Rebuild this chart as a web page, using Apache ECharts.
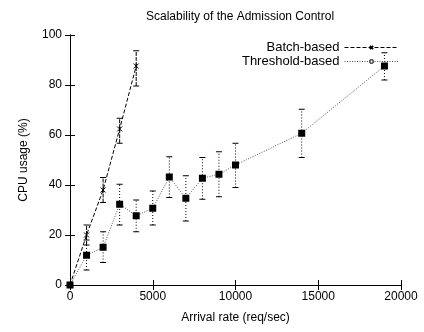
<!DOCTYPE html>
<html>
<head>
<meta charset="utf-8">
<script src="https://cdn.jsdelivr.net/npm/echarts@6/dist/echarts.min.js"></script>
<style>
  html, body { margin: 0; padding: 0; background: #fff; }
  #chart { width: 424px; height: 332px; }
</style>
</head>
<body>
<div id="chart"></div>
<script>
// arrival rate (req/sec)
const batchX = [0, 1000, 2000, 3000, 4000];
const batchY = [0, 20, 38, 62.4, 87.6];
const batchLow = [0, 16, 33, 56.7, 79.6];
const batchHigh = [0, 24, 43, 66.7, 93.7];

const threshX = [0, 1000, 2000, 3000, 4000, 5000, 6000, 7000, 8000, 9000, 10000, 14000, 19000];
const threshY = [0, 11.9, 15.1, 32.3, 27.7, 30.7, 43.2, 34.7, 42.7, 44.3, 48, 60.7, 87.6];
const threshLow = [0, 6, 9, 24, 21.3, 24, 35, 25.6, 34.3, 35.3, 39, 51, 82];
const threshHigh = [0, 18, 21.3, 40.3, 34, 37.6, 51.3, 43.7, 51, 53.3, 56.7, 70.3, 92.9];

const xTicks = [0, 5000, 10000, 15000, 20000];
const yTicks = [0, 20, 40, 60, 80, 100];

function pairs(xs, ys) { return xs.map((x, i) => [x, ys[i]]); }
function triples(xs, lo, hi) { return xs.map((x, i) => [x, lo[i], hi[i]]); }

function errorBar(dash) {
  return function (params, api) {
    const x = api.value(0);
    const p1 = api.coord([x, api.value(1)]);
    const p2 = api.coord([x, api.value(2)]);
    const cap = 3;
    const style = { stroke: '#000', lineWidth: 1, lineDash: dash };
    return {
      type: 'group',
      children: [
        { type: 'line', shape: { x1: p1[0], y1: p1[1], x2: p2[0], y2: p2[1] }, style: style },
        { type: 'line', shape: { x1: p1[0] - cap, y1: p1[1], x2: p1[0] + cap, y2: p1[1] }, style: { stroke: '#000', lineWidth: 1 } },
        { type: 'line', shape: { x1: p2[0] - cap, y1: p2[1], x2: p2[0] + cap, y2: p2[1] }, style: { stroke: '#000', lineWidth: 1 } }
      ]
    };
  };
}

const font = 'Liberation Sans';
const chart = echarts.init(document.getElementById('chart'), null, { renderer: 'canvas' });

const legendBase = {
  right: 25, align: 'right', padding: 0,
  itemWidth: 54, itemHeight: 4, itemGap: 4,
  lineStyle: { width: 1, type: 'inherit' },
  textStyle: { fontFamily: font, fontSize: 13, color: '#000' }
};

const option = {
  animation: false,
  textStyle: { fontFamily: font },
  title: {
    text: 'Scalability of the Admission Control',
    left: 235, top: 6, textAlign: 'center',
    textStyle: { fontFamily: font, fontSize: 12, fontWeight: 'normal', color: '#000' }
  },
  legend: [
    Object.assign({}, legendBase, {
      top: 41,
      data: ['Batch-based']
    }),
    Object.assign({}, legendBase, {
      top: 55,
      data: [{ name: 'Threshold-based', itemStyle: { color: '#fff', borderColor: '#000', borderWidth: 1 } }]
    })
  ],
  grid: { left: 70, right: 23, top: 35, bottom: 47 },
  xAxis: [
    {
      type: 'value', min: 0, max: 20000, interval: 5000,
      name: 'Arrival rate (req/sec)', nameLocation: 'middle', nameGap: 27,
      nameTextStyle: { fontFamily: font, fontSize: 12, color: '#000' },
      axisLine: { lineStyle: { color: '#000', width: 1 } },
      axisTick: { inside: true, length: 5, lineStyle: { color: '#000' } },
      axisLabel: { color: '#000', fontSize: 12, fontFamily: font, margin: 6,
        formatter: v => xTicks.includes(v) ? String(v) : '' },
      splitLine: { show: false }
    },
    {
      type: 'value', min: 0, max: 20000, interval: 5000, position: 'top',
      axisLine: { lineStyle: { color: '#000', width: 1 } },
      axisTick: { inside: true, length: 5, lineStyle: { color: '#000' } },
      axisLabel: { show: false }, splitLine: { show: false }
    }
  ],
  yAxis: [
    {
      type: 'value', min: 0, max: 100, interval: 20,
      name: 'CPU usage (%)', nameLocation: 'middle', nameGap: 40,
      nameTextStyle: { fontFamily: font, fontSize: 12, color: '#000' },
      axisLine: { show: true, lineStyle: { color: '#000', width: 1 } },
      axisTick: { show: true, inside: true, length: 5, lineStyle: { color: '#000' } },
      axisLabel: { color: '#000', fontSize: 12, fontFamily: font, margin: 8,
        formatter: v => yTicks.includes(v) ? String(v) : '' },
      splitLine: { show: false }
    },
    {
      type: 'value', min: 0, max: 100, interval: 20, position: 'right',
      axisLine: { show: true, lineStyle: { color: '#000', width: 1 } },
      axisTick: { show: true, inside: true, length: 5, lineStyle: { color: '#000' } },
      axisLabel: { show: false }, splitLine: { show: false }
    }
  ],
  series: [
    {
      name: 'Batch-based',
      type: 'line',
      data: pairs(batchX, batchY),
      symbol: 'path://M0,0L10,10M10,0L0,10M5,0L5,10',
      symbolSize: 5,
      itemStyle: { color: 'none', borderColor: '#000', borderWidth: 1 },
      lineStyle: { color: '#000', width: 1, type: [4, 2] },
      z: 3
    },
    {
      name: 'Threshold-based',
      type: 'line',
      data: pairs(threshX, threshY),
      symbol: 'rect',
      symbolSize: 7,
      itemStyle: { color: '#000' },
      lineStyle: { color: '#555', width: 1, type: [1, 1.5] },
      z: 3
    },
    {
      type: 'custom',
      data: triples(batchX, batchLow, batchHigh),
      renderItem: errorBar([4, 1]),
      encode: { x: 0, y: [1, 2] },
      z: 2
    },
    {
      type: 'custom',
      data: triples(threshX, threshLow, threshHigh),
      renderItem: errorBar([1, 2]),
      encode: { x: 0, y: [1, 2] },
      z: 2
    }
  ]
};

chart.setOption(option);
</script>
</body>
</html>
